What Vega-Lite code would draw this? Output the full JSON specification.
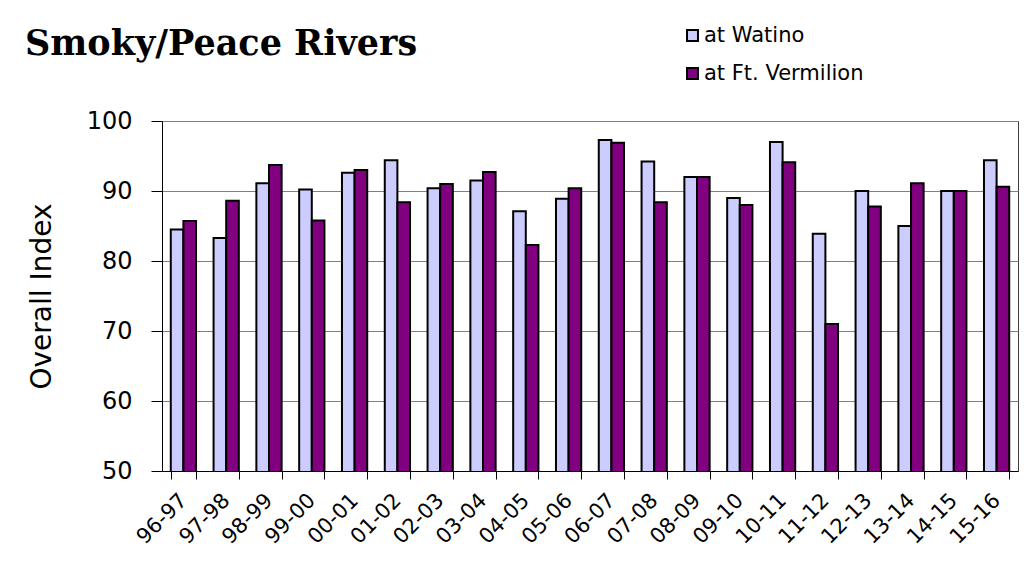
{
  "$schema": "https://vega.github.io/schema/vega-lite/v6.json",
  "width": 856,
  "height": 350,
  "autosize": {"type": "none"},
  "padding": {"left": 162, "top": 121, "right": 10, "bottom": 103},
  "background": "white",
  "title": {
    "text": "Smoky/Peace Rivers",
    "anchor": "start",
    "frame": "group",
    "font": "DejaVu Serif",
    "fontSize": 35,
    "fontWeight": "bold",
    "color": "black",
    "baseline": "alphabetic",
    "dx": -137,
    "offset": 0,
    "dy": 65
  },
  "config": {
    "view": {"stroke": "#404040", "strokeWidth": 1},
    "font": "DejaVu Sans"
  },
  "data": {
    "values": [
      {"season": "96-97", "site": "at Watino", "value": 84.5},
      {"season": "96-97", "site": "at Ft. Vermilion", "value": 85.7},
      {"season": "97-98", "site": "at Watino", "value": 83.3},
      {"season": "97-98", "site": "at Ft. Vermilion", "value": 88.6},
      {"season": "98-99", "site": "at Watino", "value": 91.1},
      {"season": "98-99", "site": "at Ft. Vermilion", "value": 93.7},
      {"season": "99-00", "site": "at Watino", "value": 90.2},
      {"season": "99-00", "site": "at Ft. Vermilion", "value": 85.8},
      {"season": "00-01", "site": "at Watino", "value": 92.6},
      {"season": "00-01", "site": "at Ft. Vermilion", "value": 93.0},
      {"season": "01-02", "site": "at Watino", "value": 94.4},
      {"season": "01-02", "site": "at Ft. Vermilion", "value": 88.4},
      {"season": "02-03", "site": "at Watino", "value": 90.4},
      {"season": "02-03", "site": "at Ft. Vermilion", "value": 91.0},
      {"season": "03-04", "site": "at Watino", "value": 91.5},
      {"season": "03-04", "site": "at Ft. Vermilion", "value": 92.7},
      {"season": "04-05", "site": "at Watino", "value": 87.1},
      {"season": "04-05", "site": "at Ft. Vermilion", "value": 82.3},
      {"season": "05-06", "site": "at Watino", "value": 88.9},
      {"season": "05-06", "site": "at Ft. Vermilion", "value": 90.4},
      {"season": "06-07", "site": "at Watino", "value": 97.3},
      {"season": "06-07", "site": "at Ft. Vermilion", "value": 96.9},
      {"season": "07-08", "site": "at Watino", "value": 94.2},
      {"season": "07-08", "site": "at Ft. Vermilion", "value": 88.4},
      {"season": "08-09", "site": "at Watino", "value": 92.0},
      {"season": "08-09", "site": "at Ft. Vermilion", "value": 92.0},
      {"season": "09-10", "site": "at Watino", "value": 89.0},
      {"season": "09-10", "site": "at Ft. Vermilion", "value": 88.0},
      {"season": "10-11", "site": "at Watino", "value": 97.0},
      {"season": "10-11", "site": "at Ft. Vermilion", "value": 94.1},
      {"season": "11-12", "site": "at Watino", "value": 83.9},
      {"season": "11-12", "site": "at Ft. Vermilion", "value": 71.0},
      {"season": "12-13", "site": "at Watino", "value": 90.0},
      {"season": "12-13", "site": "at Ft. Vermilion", "value": 87.8},
      {"season": "13-14", "site": "at Watino", "value": 85.0},
      {"season": "13-14", "site": "at Ft. Vermilion", "value": 91.1},
      {"season": "14-15", "site": "at Watino", "value": 90.0},
      {"season": "14-15", "site": "at Ft. Vermilion", "value": 90.0},
      {"season": "15-16", "site": "at Watino", "value": 94.4},
      {"season": "15-16", "site": "at Ft. Vermilion", "value": 90.6}
    ]
  },
  "mark": {"type": "bar", "stroke": "black", "strokeWidth": 2, "clip": true},
  "encoding": {
    "x": {
      "field": "season",
      "type": "nominal",
      "sort": null,
      "scale": {"paddingInner": 0.41, "paddingOuter": 0.205},
      "axis": {
        "title": null,
        "labelAngle": -45,
        "labelAlign": "right",
        "labelBaseline": "middle",
        "labelFont": "DejaVu Sans",
        "labelFontSize": 21,
        "labelColor": "black",
        "labelPadding": 18,
        "tickBand": "extent",
        "tickSize": 8,
        "tickColor": "black",
        "domainColor": "black",
        "grid": false
      }
    },
    "xOffset": {
      "field": "site",
      "type": "nominal",
      "sort": ["at Watino", "at Ft. Vermilion"],
      "scale": {"paddingInner": 0}
    },
    "y": {
      "field": "value",
      "type": "quantitative",
      "scale": {"domain": [50, 100], "zero": false},
      "axis": {
        "title": "Overall Index",
        "titleFont": "DejaVu Sans",
        "titleFontSize": 28,
        "titleFontWeight": "normal",
        "titleColor": "black",
        "titlePadding": 30,
        "values": [50, 60, 70, 80, 90, 100],
        "labelFont": "DejaVu Sans",
        "labelFontSize": 24,
        "labelColor": "black",
        "labelPadding": 19,
        "tickSize": 11,
        "tickColor": "black",
        "domainColor": "black",
        "gridColor": "#808080",
        "gridWidth": 1
      }
    },
    "color": {
      "field": "site",
      "type": "nominal",
      "sort": ["at Watino", "at Ft. Vermilion"],
      "scale": {"domain": ["at Watino", "at Ft. Vermilion"], "range": ["#CCCCFF", "#800080"]},
      "legend": {
        "orient": "none",
        "legendX": 520,
        "legendY": -96,
        "title": null,
        "padding": 0,
        "symbolType": "square",
        "symbolSize": 120,
        "symbolStrokeColor": "black",
        "symbolStrokeWidth": 2,
        "labelFont": "DejaVu Sans",
        "labelFontSize": 21,
        "labelColor": "black",
        "labelOffset": 1,
        "rowPadding": 16
      }
    }
  }
}
